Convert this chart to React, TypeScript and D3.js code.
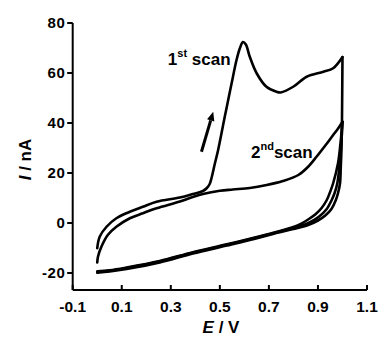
import React from 'react';
import * as d3 from 'd3';

// potential (V), current (nA)
const scan1Forward: [number, number][] = [
  [0.0, -10.1], [0.01, -5.5], [0.038, -1.5], [0.078, 1.9], [0.133, 4.5], [0.186, 6.5],
  [0.242, 8.5], [0.337, 10.2], [0.39, 11.6], [0.431, 12.8], [0.447, 14], [0.458, 15.5],
  [0.466, 18], [0.479, 23.5], [0.493, 29.2], [0.507, 36], [0.52, 42.5], [0.534, 49.2],
  [0.548, 55.9], [0.568, 65.2], [0.582, 70], [0.594, 72.4], [0.606, 71.4], [0.622, 66.5],
  [0.65, 59.9], [0.69, 54.5], [0.731, 52.5], [0.748, 52.2], [0.799, 54.5], [0.854, 58.5],
  [0.922, 60.5], [0.962, 61.9], [1.0, 66.4],
];
const scan1Reverse: [number, number][] = [
  [1.0, 66.4], [0.999, 53], [0.998, 41], [0.996, 30], [0.993, 22], [0.99, 15.9],
  [0.982, 12], [0.973, 9.2], [0.955, 5.6], [0.93, 3], [0.9, 1], [0.86, -0.8], [0.8, -2.4],
  [0.73, -4], [0.663, -5.8], [0.529, -9], [0.39, -12.2], [0.255, -15.8], [0.12, -18.4],
  [0.051, -19.4], [0.0, -19.9],
];
const scan2Forward: [number, number][] = [
  [0.0, -15.8], [0.003, -13.5], [0.017, -9.5], [0.043, -4.8], [0.078, -1.5], [0.133, 1.9],
  [0.186, 3.9], [0.242, 5.9], [0.337, 8.6], [0.39, 10.4], [0.431, 11.6], [0.5, 12.9],
  [0.553, 13.4], [0.622, 14], [0.691, 15.2], [0.757, 16.8], [0.82, 19.2], [0.86, 22.5],
  [0.895, 26.6], [0.93, 31], [0.962, 35.2], [0.985, 38.2], [1.0, 40.5],
];
const scan2Reverse: [number, number][] = [
  [1.0, 40.5], [0.996, 33], [0.99, 25], [0.979, 15.9], [0.968, 12], [0.956, 9.2],
  [0.935, 5.5], [0.905, 2.6], [0.87, 0.4], [0.83, -1.2], [0.8, -2], [0.73, -3.8],
  [0.663, -5.5], [0.529, -8.7], [0.39, -11.9], [0.255, -15.4], [0.12, -18], [0.051, -19.1],
  [0.0, -19.6],
];
const scan3Reverse: [number, number][] = [
  [1.0, 40.5], [0.992, 32], [0.982, 24], [0.962, 15.9], [0.948, 12], [0.936, 9.2],
  [0.915, 6], [0.89, 3.5], [0.86, 1.4], [0.83, -0.4], [0.8, -1.6], [0.73, -3.6],
  [0.663, -5.3], [0.529, -8.5], [0.39, -11.7], [0.255, -15.2], [0.12, -17.8], [0.051, -18.9],
  [0.0, -19.3],
];

const xTicks = [-0.1, 0.1, 0.3, 0.5, 0.7, 0.9, 1.1];
const yTicks = [-20, 0, 20, 40, 60, 80];
const arrowFrom: [number, number] = [0.425, 28.5];
const arrowTo: [number, number] = [0.473, 44.5];
const label1At: [number, number] = [0.288, 63.2];
const label2At: [number, number] = [0.627, 26];

const W = 381;
const H = 337;
const FONT = '"Liberation Sans", Arial, sans-serif';

export default function App() {
  const x = d3.scaleLinear().domain([-0.1, 1.1]).range([72.7, 367]);
  const y = d3.scaleLinear().domain([-26.8, 80]).range([290, 23]);

  const line = d3.line<[number, number]>()
    .x(d => x(d[0]))
    .y(d => y(d[1]))
    .curve(d3.curveCatmullRom.alpha(0.5));

  const curves = [scan1Forward, scan1Reverse, scan2Forward, scan2Reverse, scan3Reverse];

  // arrow geometry
  const ax0 = x(arrowFrom[0]), ay0 = y(arrowFrom[1]);
  const ax1 = x(arrowTo[0]), ay1 = y(arrowTo[1]);
  const len = Math.hypot(ax1 - ax0, ay1 - ay0);
  const ux = (ax1 - ax0) / len, uy = (ay1 - ay0) / len;
  const headL = 9, headW = 3.8;
  const bx = ax1 - ux * headL, by = ay1 - uy * headL;
  const head = `${ax1},${ay1} ${bx - uy * headW},${by + ux * headW} ${bx + uy * headW},${by - ux * headW}`;

  return (
    <svg width={W} height={H} style={{ position: 'absolute', left: 0, top: 0, background: '#fff' }}
      fontFamily={FONT} fontWeight="bold">
      {/* axes */}
      <line x1={x(-0.1)} x2={x(1.1)} y1={y(-26.8)} y2={y(-26.8)} stroke="#000" strokeWidth={2} />
      <line x1={x(-0.1)} x2={x(-0.1)} y1={y(80)} y2={y(-26.8)} stroke="#000" strokeWidth={2} />
      {xTicks.map(t => (
        <g key={t}>
          <line x1={x(t)} x2={x(t)} y1={y(-26.8)} y2={y(-26.8) - 5} stroke="#000" strokeWidth={2} />
          <text x={x(t)} y={312} textAnchor="middle" fontSize={15.5}>{t.toFixed(1)}</text>
        </g>
      ))}
      {yTicks.map(t => (
        <g key={t}>
          <line x1={x(-0.1) - 5.5} x2={x(-0.1)} y1={y(t)} y2={y(t)} stroke="#000" strokeWidth={2} />
          <text x={65.5} y={y(t) + 5.3} textAnchor="end" fontSize={15} letterSpacing={0.6}>{t}</text>
        </g>
      ))}
      <text x={221} y={333} textAnchor="middle" fontSize={17}>
        <tspan fontStyle="italic">E</tspan> / V
      </text>
      <text transform="translate(30.5,159.5) rotate(-90)" textAnchor="middle" fontSize={17}>
        <tspan fontStyle="italic">I</tspan> / nA
      </text>

      {/* voltammograms */}
      {curves.map((c, i) => (
        <path key={i} d={line(c) ?? ''} fill="none" stroke="#000" strokeWidth={2.6}
          strokeLinejoin="round" strokeLinecap="round" />
      ))}

      {/* scan direction arrow */}
      <line x1={ax0} y1={ay0} x2={bx} y2={by} stroke="#000" strokeWidth={3} />
      <polygon points={head} fill="#000" />

      <text x={x(label1At[0])} y={y(label1At[1])} fontSize={17}>
        1<tspan fontSize={11} dy={-8}>st</tspan><tspan dy={8}> scan</tspan>
      </text>
      <text x={x(label2At[0])} y={y(label2At[1])} fontSize={17}>
        2<tspan fontSize={11} dy={-8}>nd</tspan><tspan dy={8}>scan</tspan>
      </text>
    </svg>
  );
}
